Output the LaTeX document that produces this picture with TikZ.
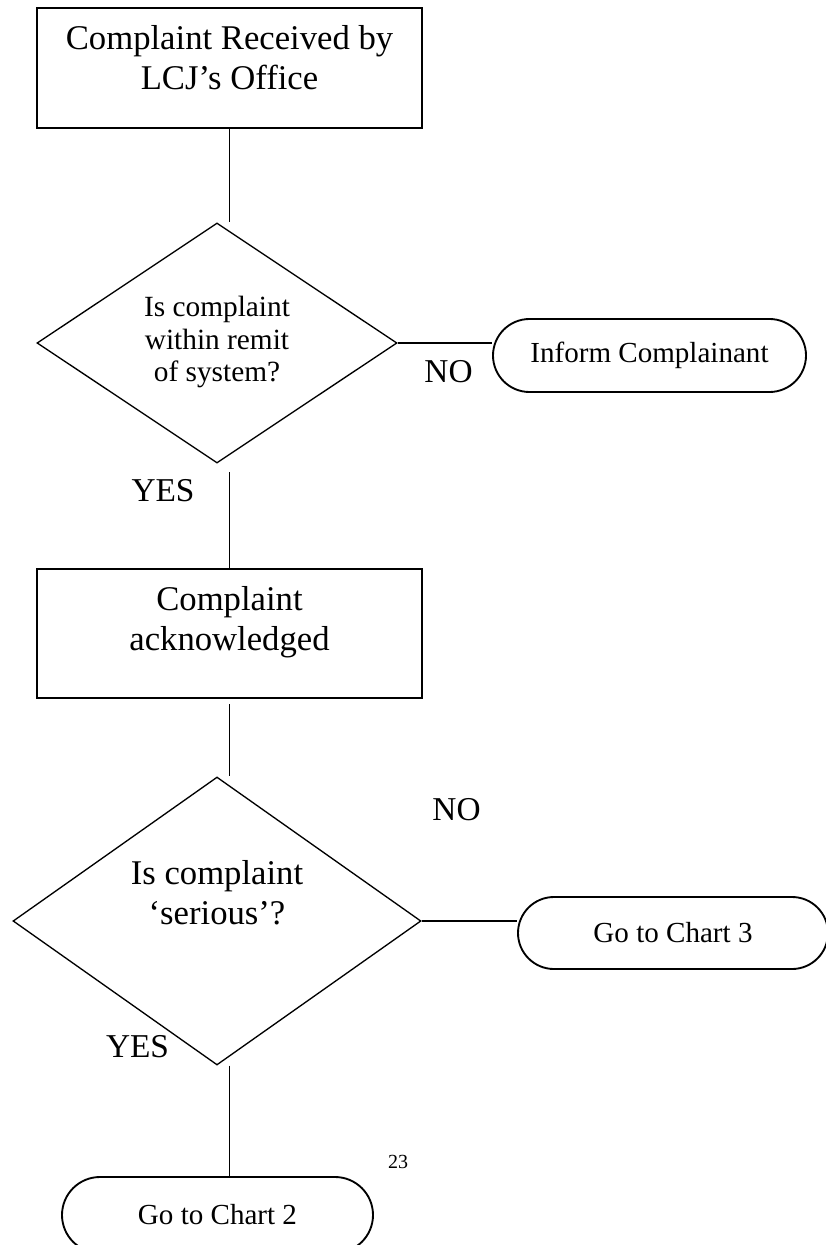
\documentclass[tikz,border=0pt]{standalone}
\usepackage{fontspec}
\setmainfont{Liberation Serif}
\usetikzlibrary{shapes.geometric,shapes.misc}

\begin{document}
\begin{tikzpicture}[x=0.75pt,y=-0.75pt,
  boxn/.style={draw, line width=1.5pt, rectangle, inner sep=0pt},
  dia/.style={draw, line width=1pt, diamond, inner sep=0pt},
  term/.style={draw, line width=1.4pt, rounded rectangle, inner sep=0pt,
    font=\fontsize{21.8}{25}\selectfont},
  conn/.style={line width=1.2pt},
  bigtxt/.style={font=\fontsize{26}{30}\selectfont, align=center, inner sep=0pt},
  midtxt/.style={font=\fontsize{22}{24.4}\selectfont, align=center, inner sep=0pt},
  lbl/.style={font=\fontsize{25}{28}\selectfont, inner sep=0pt},
  pgnum/.style={font=\fontsize{15}{18}\selectfont, inner sep=0pt},
]
\useasboundingbox (0,0) rectangle (825,1245);

% boxes
\node[boxn, minimum width=288.75pt, minimum height=90pt] (b1) at (229.5,68) {};
\node[bigtxt] (b1t) at (229.5,58) {Complaint Received by\\LCJ’s Office};

\node[dia, minimum width=270pt, minimum height=180pt] (d1) at (217,343) {};
\node[midtxt] (d1t) at (217,342) {Is complaint\\within remit\\of system?};

\node[term, minimum width=234.75pt, minimum height=54.75pt] (inf) at (649.5,355.5) {Inform Complainant};

\node[boxn, minimum width=288.75pt, minimum height=96.75pt] (b2) at (229.5,633.5) {};
\node[bigtxt] (b2t) at (229.5,622) {Complaint\\acknowledged};

\node[dia, minimum width=306pt, minimum height=216pt] (d2) at (217,921) {};
\node[bigtxt] (d2t) at (217,893) {Is complaint\\‘serious’?};

\node[term, minimum width=232.5pt, minimum height=54pt] (c3) at (673,933) {Go to Chart 3};
\node[term, minimum width=233.25pt, minimum height=57pt] (c2) at (217.5,1215) {Go to Chart 2};

% connectors
\coordinate (y1) at (229.5,472);
\coordinate (y2) at (229.5,704);
\draw[conn] (b1.south) -- (b1.south |- d1.north);
\draw[conn] (y1) -- (b2.north);
\draw[conn] (y2) -- (b2.south |- d2.north);
\draw[conn] (d1.east) -- (d1.east -| inf.west);
\draw[conn] (d2.east) -- (d2.east -| c3.west);
\draw[conn] (d2.south -| b2.south) -- (c2.north -| b2.south);

% labels
\node[lbl, anchor=base] (no1) at (448.5,382) {NO};
\node[lbl, anchor=base] (yes1) at (163,501) {YES};
\node[lbl, anchor=base] (no2) at (456.5,820) {NO};
\node[lbl, anchor=base] (yes2) at (137.5,1057) {YES};
\node[pgnum, anchor=base] (pg) at (398,1168) {23};
\end{tikzpicture}
\end{document}
